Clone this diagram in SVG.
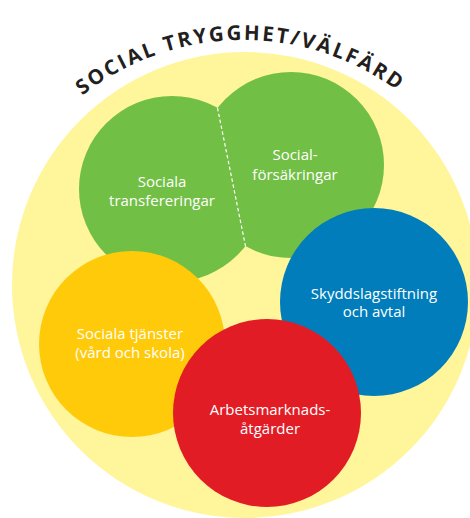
<svg xmlns="http://www.w3.org/2000/svg" width="470" height="518" viewBox="0 0 470 518">
<style>
.lbl{font-family:"Open Sans","Liberation Sans",sans-serif;font-size:15px;fill:#ffffff;text-anchor:middle}
.title{font-family:"Open Sans","Liberation Sans",sans-serif;font-size:20.5px;font-weight:bold;fill:#231f20;letter-spacing:2.3px}
.green{fill:#72bf45}
</style>
<defs>
<path id="arc" d="M 17.8 170 A 260 260 0 0 1 468.2 170" fill="none"/>
</defs>
<rect width="470" height="518" fill="#ffffff"/>
<g id="background">
<circle cx="245" cy="285" r="233" fill="#fff59b"/>
</g>
<g id="title">
<text class="title"><textPath href="#arc" startOffset="269" text-anchor="middle">SOCIAL TRYGGHET/VÄLFÄRD</textPath></text>
</g>
<g id="sociala-transfereringar">
<circle class="green" cx="172" cy="189" r="93"/>
</g>
<g id="social-forsakringar">
<circle class="green" cx="291" cy="165" r="93"/>
</g>
<g id="connectors">
<line x1="217.5" y1="107.9" x2="245.5" y2="246.1" stroke="#ffffff" stroke-width="1.2" stroke-dasharray="3.5 2.5"/>
</g>
<g id="green-labels">
<text class="lbl" x="162" y="187">Sociala</text>
<text class="lbl" x="162" y="205.5">transfereringar</text>
<text class="lbl" x="295" y="160">Social-</text>
<text class="lbl" x="295" y="179.5">försäkringar</text>
</g>
<g id="sociala-tjanster">
<circle cx="132" cy="344" r="93" fill="#ffca0a"/>
<text class="lbl" x="130" y="339">Sociala tjänster</text>
<text class="lbl" x="130" y="358">(vård och skola)</text>
</g>
<g id="skyddslagstiftning">
<circle cx="374" cy="302" r="94" fill="#007dba"/>
<text class="lbl" x="374" y="298.5">Skyddslagstiftning</text>
<text class="lbl" x="374" y="317">och avtal</text>
</g>
<g id="arbetsmarknadsatgarder">
<circle cx="267" cy="413" r="94" fill="#e21c25"/>
<text class="lbl" x="270" y="415">Arbetsmarknads-</text>
<text class="lbl" x="270" y="433.5">åtgärder</text>
</g>
</svg>
